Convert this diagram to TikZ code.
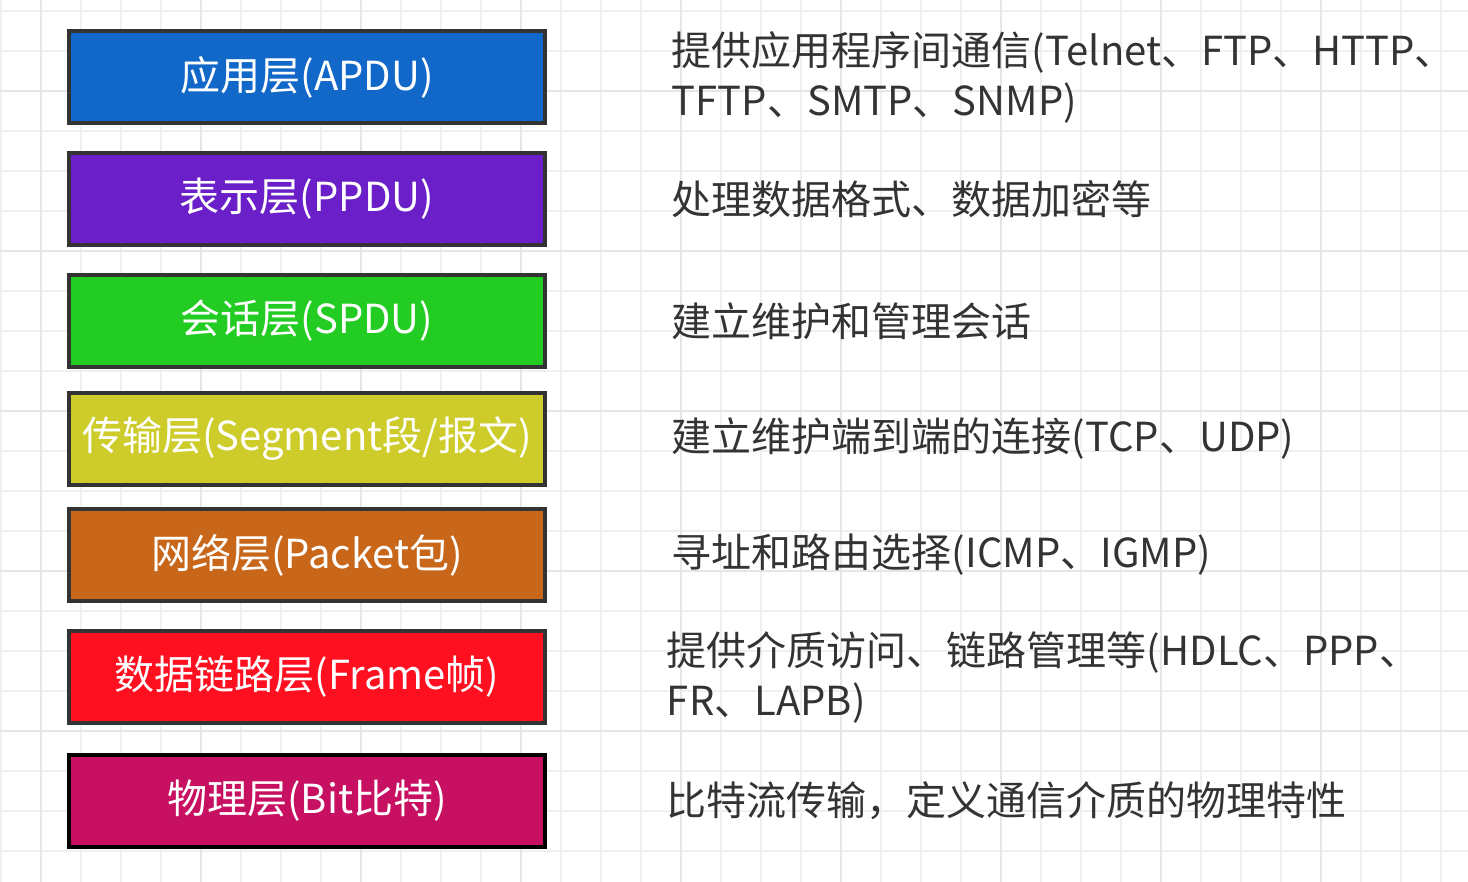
\documentclass[tikz,border=0pt]{standalone}
\usepackage{fontspec}
\setmainfont{Noto Sans CJK SC}
\usepackage{tikz}
\usetikzlibrary{positioning}
\usepackage{xcolor}
\definecolor{gridminor}{HTML}{F0F0F0}
\definecolor{gridmajor}{HTML}{E6E6E6}
\definecolor{edge}{HTML}{333333}
\definecolor{txt}{HTML}{333333}
\definecolor{appc}{HTML}{1168C8}
\definecolor{prec}{HTML}{6A1FC8}
\definecolor{sesc}{HTML}{22CC22}
\definecolor{trac}{HTML}{CDCC2A}
\definecolor{netc}{HTML}{C8661A}
\definecolor{linc}{HTML}{FF1020}
\definecolor{phyc}{HTML}{C81062}

\begin{document}
\begin{tikzpicture}[
  x=1pt, y=-1pt,
  layer/.style={draw=edge, line width=3.5pt, rectangle, minimum width=476pt, minimum height=92pt, text=white, font=\fontsize{40}{44}\selectfont},
  desc/.style={inner sep=0pt, align=left, text=txt, font=\fontsize{40}{50}\selectfont}
]
\useasboundingbox (0,0) rectangle (1468,882);
\foreach \x in {1,41,...,1468} \draw[gridminor, line width=2pt] (\x,0) -- (\x,882);
\foreach \y in {11,51,...,882} \draw[gridminor, line width=2pt] (0,\y) -- (1468,\y);
\foreach \x in {41,201,...,1468} \draw[gridmajor, line width=2.5pt] (\x,0) -- (\x,882);
\foreach \y in {91,251,...,882} \draw[gridmajor, line width=2.5pt] (0,\y) -- (1468,\y);

\node[layer, fill=appc] (app) at (307,77) {应用层(APDU)};
\node[layer, fill=prec] (pre) at (307,199) {表示层(PPDU)};
\node[layer, fill=sesc] (ses) at (307,321) {会话层(SPDU)};
\node[layer, fill=trac] (tra) at (307,439) {传输层(Segment段/报文)};
\node[layer, fill=netc] (net) at (307,555) {网络层(Packet包)};
\node[layer, fill=linc] (lin) at (307,677) {数据链路层(Frame帧)};
\node[layer, fill=phyc, draw=black] (phy) at (307,801) {物理层(Bit比特)};

\node[desc, right=125pt of app] (appd) {提供应用程序间通信(Telnet、FTP、HTTP、\\TFTP、SMTP、SNMP)};
\node[desc, right=125pt of pre] (pred) {处理数据格式、数据加密等};
\node[desc, right=125pt of ses] (sesd) {建立维护和管理会话};
\node[desc, right=125pt of tra] (trad) {建立维护端到端的连接(TCP、UDP)};
\node[desc, right=125pt of net] (netd) {寻址和路由选择(ICMP、IGMP)};
\node[desc, right=120pt of lin] (lind) {提供介质访问、链路管理等(HDLC、PPP、\\FR、LAPB)};
\node[desc, right=120pt of phy] (phyd) {比特流传输，定义通信介质的物理特性};
\end{tikzpicture}
\end{document}
